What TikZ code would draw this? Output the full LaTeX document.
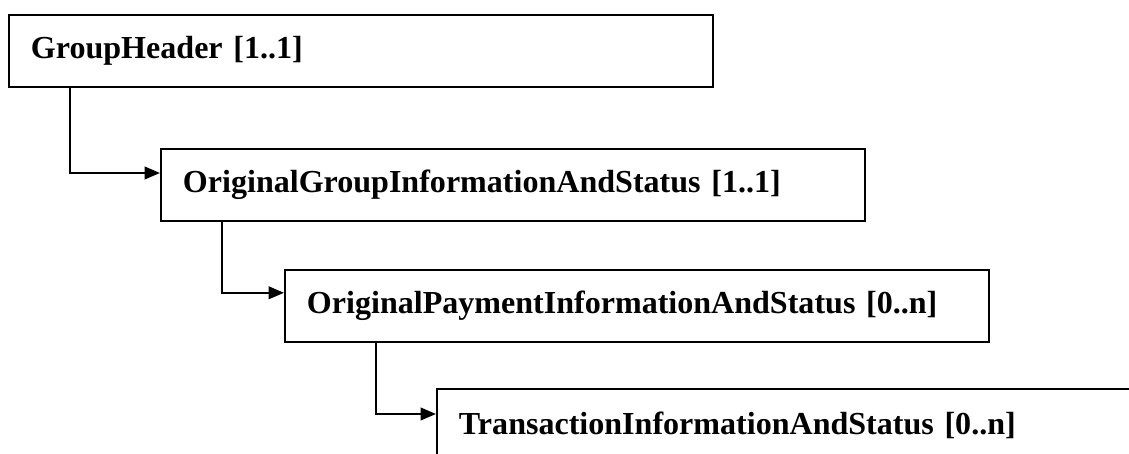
\documentclass[tikz,border=0pt]{standalone}
\usepackage{fontspec}
\setmainfont{Liberation Serif}
\usetikzlibrary{arrows.meta}

\begin{document}
\begin{tikzpicture}[scale=1]

\useasboundingbox (0,0) rectangle (28.225,11.35);
\clip (0,0) rectangle (28.225,11.35);

\begin{scope}[every node/.style={draw,anchor=north west,line width=1.4pt,minimum height=1.8cm,text width=16.5cm,inner xsep=0.55cm,align=left,font=\fontsize{22.8}{24}\selectfont\bfseries}]
\node (GH) at (0.2,11.0) {GroupHeader [1..1]};
\node (OGI) at (4.0,7.65) {OriginalGroupInformationAndStatus [1..1]};
\node (OPI) at (7.1,4.63) {OriginalPaymentInformationAndStatus [0..n]};
\node (TI) at (10.9,1.65) {TransactionInformationAndStatus [0..n]};
\end{scope}
%
\begin{scope}[line width=1.4pt,>={Triangle[length=11pt,width=9pt]}]
\draw[->] ([xshift=1.55cm]GH.south west) |- ([yshift=-0.625cm]OGI.north west);
\draw[->] ([xshift=1.55cm]OGI.south west) |- ([yshift=-0.6cm]OPI.north west);
\draw[->] ([xshift=2.3cm]OPI.south west) |- ([yshift=-0.65cm]TI.north west);
\end{scope}

\end{tikzpicture}
\end{document}
